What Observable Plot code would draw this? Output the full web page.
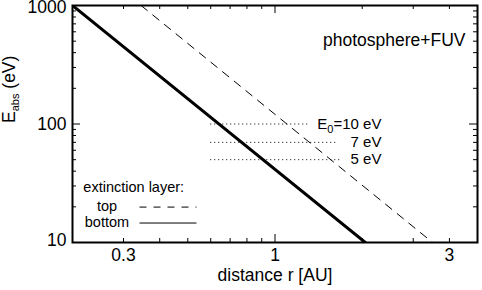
<!DOCTYPE html>
<html><head><meta charset="utf-8">
<script src="https://cdn.jsdelivr.net/npm/d3@7"></script>
<script src="https://cdn.jsdelivr.net/npm/@observablehq/plot@0.6"></script>
<style>body{margin:0;background:#fff;} svg{display:block;}</style>
</head><body><div id="chart"></div>
<script>
// ---- data ----
const bottomLayerR = [0.2, 2.05];
const bottomLayerE = [1000, 10];
const topLayerR = [0.345, 3.5];
const topLayerE = [1000, 10];
const levelLabels = ["E_{0}=10 eV", "7 eV", "5 eV"];
const levelE = [100, 70, 50];
const levelStartR = [0.6, 0.6, 0.6];
const levelEndR = [1.32, 1.63, 1.69];
const xLabelTicks = [0.3, 1, 4];
const xLabelTexts = ["0.3", "1", "3"];
const xMinorTicks = [0.3, 0.4, 0.5, 0.6, 0.7, 0.8, 0.9, 2, 3, 4];
const xMajorTicks = [1];
const yMajorTicks = [10, 100, 1000];
const yMinorTicks = [20, 30, 40, 50, 60, 70, 80, 90, 200, 300, 400, 500, 600, 700, 800, 900];
const legendTitle = "extinction layer:";
const legendLabels = ["top", "bottom"];
const panelLabel = "photosphere+FUV";
const xTitle = "distance r [AU]";
const yTitle = "E_{abs} (eV)";

// ---- layout / style ----
const W = 482, H = 290, mL = 72, mR = 5, mT = 5, mB = 48;
const fw = W - mL - mR, fh = H - mT - mB;
const font = "Liberation Sans, Arial, Helvetica, sans-serif";
const big = 17.5, small = 15, legendSize = 14.5;
const minorLen = 4, majorLen = 8;
const yLabelNudge = [-2, 0, 1.5]; // vertical nudge of the y tick labels, bottom to top
const labelR = 2.33;              // right edge of level labels (data units)
const legendLayout = {titleR: 0.218, titleE: 29.1, labelR: 0.263, rowE: [20.1, 14.7], sampleR: [0.342, 0.538], sampleE: [19.9, 14.6]};

const lines = [
  ...bottomLayerR.map((r, i) => ({r, E: bottomLayerE[i], layer: "bottom"})),
  ...topLayerR.map((r, i) => ({r, E: topLayerE[i], layer: "top"}))
];
const levels = levelE.map((E, i) => ({E, r0: levelStartR[i], r1: levelEndR[i], label: levelLabels[i]}));
const legendRows = legendLabels.map((label, i) => ({label, E: legendLayout.rowE[i], sE: legendLayout.sampleE[i]}));

const plot = Plot.plot({
  width: W, height: H,
  marginLeft: mL, marginRight: mR, marginTop: mT, marginBottom: mB,
  style: {fontFamily: font, background: "#fff", color: "#000"},
  x: {type: "log", domain: [0.2, 5]},
  y: {type: "log", domain: [10, 1000]},
  marks: [
    // inward ticks on all four sides
    Plot.tickX(xMinorTicks, {x: d => d, insetTop: fh - minorLen, stroke: "#000"}),
    Plot.tickX(xMinorTicks, {x: d => d, insetBottom: fh - minorLen, stroke: "#000"}),
    Plot.tickX(xMajorTicks, {x: d => d, insetTop: fh - majorLen, stroke: "#000"}),
    Plot.tickX(xMajorTicks, {x: d => d, insetBottom: fh - majorLen, stroke: "#000"}),
    Plot.tickY(yMinorTicks, {y: d => d, insetRight: fw - minorLen, stroke: "#000"}),
    Plot.tickY(yMinorTicks, {y: d => d, insetLeft: fw - minorLen, stroke: "#000"}),
    Plot.tickY(yMajorTicks, {y: d => d, insetRight: fw - majorLen, stroke: "#000"}),
    Plot.tickY(yMajorTicks, {y: d => d, insetLeft: fw - majorLen, stroke: "#000"}),
    Plot.axisX({ticks: xLabelTicks, tickSize: 0, tickPadding: 6, fontSize: big, label: null,
      tickFormat: d => xLabelTexts[xLabelTicks.indexOf(d)]}),
    ...yMajorTicks.map((t, i) => Plot.axisY({ticks: [t], tickSize: 0, tickPadding: 6, fontSize: big, label: null, dy: yLabelNudge[i], tickFormat: d => String(d)})),
    // level lines
    Plot.ruleY(levels, {y: "E", x1: "r0", x2: "r1", stroke: "#000", strokeWidth: 1, strokeDasharray: "1,3"}),
    Plot.text(levels, {y: "E", x: () => labelR, text: "label", textAnchor: "end", fontSize: small, fill: "#000"}),
    // main lines
    Plot.line(lines.filter(d => d.layer === "top"), {x: "r", y: "E", stroke: "#000", strokeWidth: 1, strokeDasharray: "8,7", clip: true}),
    Plot.line(lines.filter(d => d.layer === "bottom"), {x: "r", y: "E", stroke: "#000", strokeWidth: 3, clip: true}),
    // legend
    Plot.text([legendTitle], {x: () => legendLayout.titleR, y: () => legendLayout.titleE, textAnchor: "start", fontSize: legendSize, fill: "#000"}),
    Plot.text(legendRows, {x: () => legendLayout.labelR, y: "E", text: "label", fontSize: legendSize, fill: "#000"}),
    Plot.ruleY(legendRows.slice(0, 1), {y: "sE", x1: () => legendLayout.sampleR[0], x2: () => legendLayout.sampleR[1], stroke: "#000", strokeDasharray: "7,7", strokeWidth: 1}),
    Plot.ruleY(legendRows.slice(1), {y: "sE", x1: () => legendLayout.sampleR[0], x2: () => legendLayout.sampleR[1], stroke: "#000", strokeWidth: 1}),
    // annotations
    Plot.text([panelLabel], {frameAnchor: "top-right", dx: -12, dy: 28, textAnchor: "end", fontSize: big, fill: "#000"}),
    Plot.text([xTitle], {frameAnchor: "bottom", dy: 38.5, fontSize: big, fill: "#000"}),
    Plot.text([yTitle], {frameAnchor: "left", dx: -63, dy: -1, rotate: -90, fontSize: big, fill: "#000"}),
    Plot.frame({stroke: "#000", strokeWidth: 2})
  ]
});

// subscripts: turn "_{...}" into shifted tspans
plot.querySelectorAll("text").forEach(t => {
  const s = t.textContent;
  if (!s.includes("_{")) return;
  const fs = parseFloat(t.getAttribute("font-size") || getComputedStyle(t).fontSize) || big;
  t.textContent = "";
  const parts = s.split(/_\{([^}]*)\}/);
  const ns = "http://www.w3.org/2000/svg";
  parts.forEach((p, i) => {
    if (!p) return;
    const ts = document.createElementNS(ns, "tspan");
    ts.textContent = p;
    if (i % 2 === 1) {
      ts.setAttribute("font-size", Math.round(fs * 0.65));
      ts.setAttribute("dy", fs * 0.25);
    } else if (i > 0) {
      ts.setAttribute("dy", -fs * 0.25);
    }
    t.appendChild(ts);
  });
});
document.getElementById("chart").appendChild(plot);
</script></body></html>
